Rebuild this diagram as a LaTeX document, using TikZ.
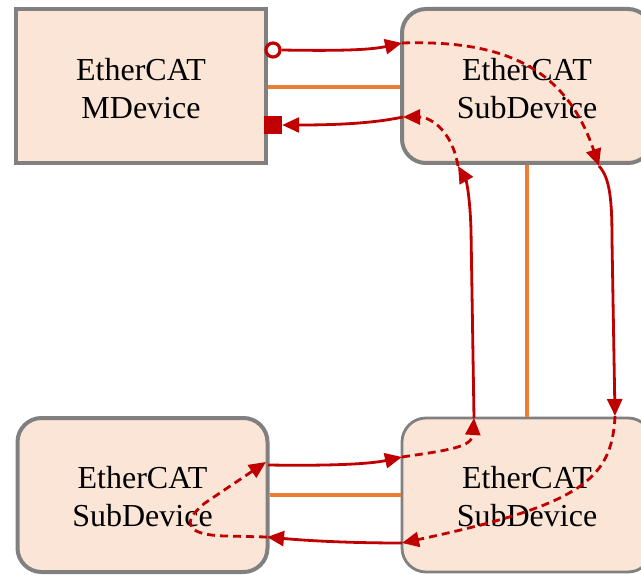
\documentclass[tikz,border=0pt]{standalone}
\usepackage{fontspec}
\setmainfont{Liberation Serif}
\usetikzlibrary{arrows.meta}
\definecolor{boxfill}{HTML}{FBE5D6}
\definecolor{boxline}{HTML}{808080}
\definecolor{link}{HTML}{ED7D31}
\definecolor{flow}{HTML}{C00000}
\tikzset{
  devbox/.style={draw=boxline, line width=4pt, fill=boxfill, minimum width=250pt,
    minimum height=154pt, inner sep=0pt},
  subbox/.style={devbox, rounded corners=24pt},
  devtext/.style={align=center, inner sep=0pt, font=\fontsize{32}{38}\selectfont},
  wire/.style={draw=link, line width=3.5pt},
  tipstyle/.style={-{Triangle[length=17pt,width=15pt]}},
  solidflow/.style={draw=flow, line width=2.8pt, tipstyle},
  dashflow/.style={draw=flow, line width=2.8pt, dash pattern=on 8pt off 5pt, tipstyle},
}
\begin{document}
\begin{tikzpicture}[x=1pt, y=-1pt]
\useasboundingbox (0,0) rectangle (641,575);
\clip (0,0) rectangle (641,575);
% devices
\node[devbox] (md) at (141,86) {};
\node[subbox] (s1) at (527,86) {};
\node[subbox] (s3) at (142.5,495) {};
\node[subbox, line width=2.8pt] (s2) at (527,495) {};
\node[devtext] (mdt) at ([yshift=-3pt]md.center) {EtherCAT\\MDevice};
\node[devtext] (s1t) at ([yshift=-3pt]s1.center) {EtherCAT\\SubDevice};
\node[devtext] (s3t) at ([yshift=-2pt]s3.center) {EtherCAT\\SubDevice};
\node[devtext] (s2t) at ([yshift=-2pt]s2.center) {EtherCAT\\SubDevice};
% physical links
\draw[wire] (md.east |- 0,87) -- (s1.west |- 0,87);
\draw[wire] (s1.south) -- (s2.north);
\draw[wire] (s3.east |- 0,495) -- (s2.west |- 0,495);
% port points
\coordinate (a2) at (402,43);
\coordinate (a3) at (599,166);
\coordinate (a4) at (615,416);
\coordinate (a5) at (402,543);
\coordinate (a6) at (267,537);
\coordinate (a7) at (266,462);
\coordinate (a8) at (268,465);
\coordinate (a9) at (402,457);
\coordinate (a10) at (474,418);
\coordinate (a11) at (458,166);
\coordinate (a12) at (403,117);
% port markers
\node[draw=flow, line width=3.2pt, fill=white, circle, minimum size=14pt, inner sep=0pt] (open) at (273,50) {};
\node[fill=flow, minimum size=18pt, inner sep=0pt] (sq) at (273,125) {};
% flow
\draw[solidflow] (open.east) .. controls (340,51) and (370,50) .. (a2);
\draw[dashflow] (a2) .. controls (500,40) and (565,65) .. (a3);
\draw[solidflow] (a3) .. controls (610,178) and (612,200) .. (612,240) -- (a4);
\draw[dashflow] (a4) .. controls (612,480) and (580,505) .. (a5);
\draw[solidflow] (a5) .. controls (340,543) and (300,540) .. (a6);
\draw[dashflow] (a6) -- (225,536) .. controls (190,535) and (178,525) .. (205,503) -- (a7);
\draw[solidflow] (a8) .. controls (330,466) and (370,464) .. (a9);
\draw[dashflow] (a9) .. controls (450,450) and (472,447) .. (a10);
\draw[solidflow] (a10) -- (471,230) .. controls (470,195) and (466,180) .. (a11);
\draw[dashflow] (a11) .. controls (452,130) and (430,117) .. (a12);
\draw[solidflow] (a12) .. controls (370,124) and (330,125) .. (sq.east);
\end{tikzpicture}
\end{document}
